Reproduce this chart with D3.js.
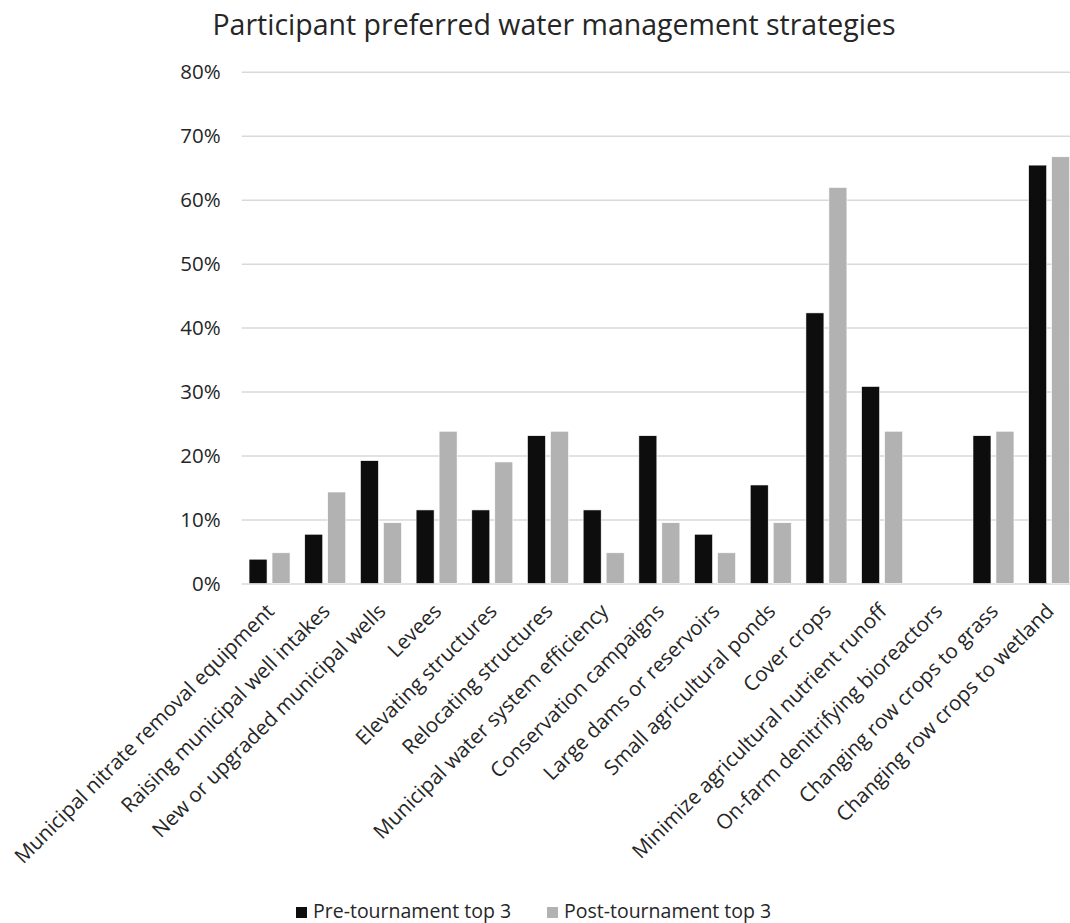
<!DOCTYPE html>
<html><head><meta charset="utf-8">
<script src="https://cdn.jsdelivr.net/npm/d3@7"></script>
<style>body{margin:0;background:#fff;} svg{display:block;font-family:"Open Sans",sans-serif;}</style>
</head><body>
<svg id="c" width="1070" height="923"></svg>
<script>
const categories = [
  "Municipal nitrate removal equipment",
  "Raising municipal well intakes",
  "New or upgraded municipal wells",
  "Levees",
  "Elevating structures",
  "Relocating structures",
  "Municipal water system efficiency",
  "Conservation campaigns",
  "Large dams or reservoirs",
  "Small agricultural ponds",
  "Cover crops",
  "Minimize agricultural nutrient runoff",
  "On-farm denitrifying bioreactors",
  "Changing row crops to grass",
  "Changing row crops to wetland"
];
const seriesNames = ["Pre-tournament top 3", "Post-tournament top 3"];
const preValues  = [3.8, 7.7, 19.2, 11.5, 11.5, 23.1, 11.5, 23.1, 7.7, 15.4, 42.3, 30.8, 0, 23.1, 65.4];
const postValues = [4.8, 14.3, 9.5, 23.8, 19.0, 23.8, 4.8, 9.5, 4.8, 9.5, 61.9, 23.8, 0, 23.8, 66.7];
const yTicks = [0, 10, 20, 30, 40, 50, 60, 70, 80];
const colors = ["#0d0d0d", "#b2b2b2"];
const title = "Participant preferred water management strategies";

const svg = d3.select("#c");
const plotL = 241.7, plotR = 1077, plotT = 71.7, plotB = 583.5;

const y = d3.scaleLinear().domain([0, 80]).range([plotB, plotT]);
const x0 = d3.scaleBand().domain(categories).range([plotL, plotR]).paddingInner(0.264).paddingOuter(0.132);
const x1 = d3.scaleBand().domain(seriesNames).range([0, x0.bandwidth()]).paddingInner(0.217);

// gridlines + y labels
const grid = svg.append("g")
  .attr("transform", `translate(${plotL},0)`)
  .call(d3.axisLeft(y).tickValues(yTicks).tickSize(-(plotR - plotL)).tickFormat(d => d + "%").tickPadding(21));
grid.select(".domain").remove();
grid.selectAll(".tick line").attr("stroke", "#d9d9d9").attr("stroke-width", 1.5);
grid.selectAll(".tick text").attr("fill", "#262626").style("font-size", "20.5px").style("font-family", '"Open Sans",sans-serif');

// bars
const data = categories.map((c, i) => ({ c, vals: [preValues[i], postValues[i]] }));
const g = svg.append("g").selectAll("g").data(data).join("g")
  .attr("transform", d => `translate(${x0(d.c)},0)`);
g.selectAll("rect").data(d => d.vals.map((v, j) => ({ v, s: seriesNames[j], j })))
  .join("rect")
  .attr("x", d => x1(d.s))
  .attr("width", x1.bandwidth())
  .attr("y", d => y(d.v))
  .attr("height", d => y(0) - y(d.v))
  .attr("fill", d => colors[d.j])
  .attr("stroke", "#ffffff").attr("stroke-width", 0.6);

// x labels
svg.append("g").selectAll("text").data(categories).join("text")
  .attr("transform", d => `translate(${x0(d) + x0.bandwidth() / 2 + 6},${plotB + 29}) rotate(-45)`)
  .attr("text-anchor", "end")
  .attr("fill", "#262626")
  .style("font-size", "20.6px")
  .text(d => d);

// title
svg.append("text").attr("x", 554).attr("y", 35).attr("text-anchor", "middle")
  .attr("fill", "#262626").style("font-size", "28.5px").text(title);

// legend
const leg = svg.append("g");
const legX = [296, 547];
seriesNames.forEach((s, i) => {
  leg.append("rect").attr("x", legX[i]).attr("y", 907).attr("width", 11).attr("height", 11).attr("fill", colors[i]);
  leg.append("text").attr("x", legX[i] + 17).attr("y", 918).attr("fill", "#262626").style("font-size", "19.5px").text(s);
});
</script>
</body></html>
